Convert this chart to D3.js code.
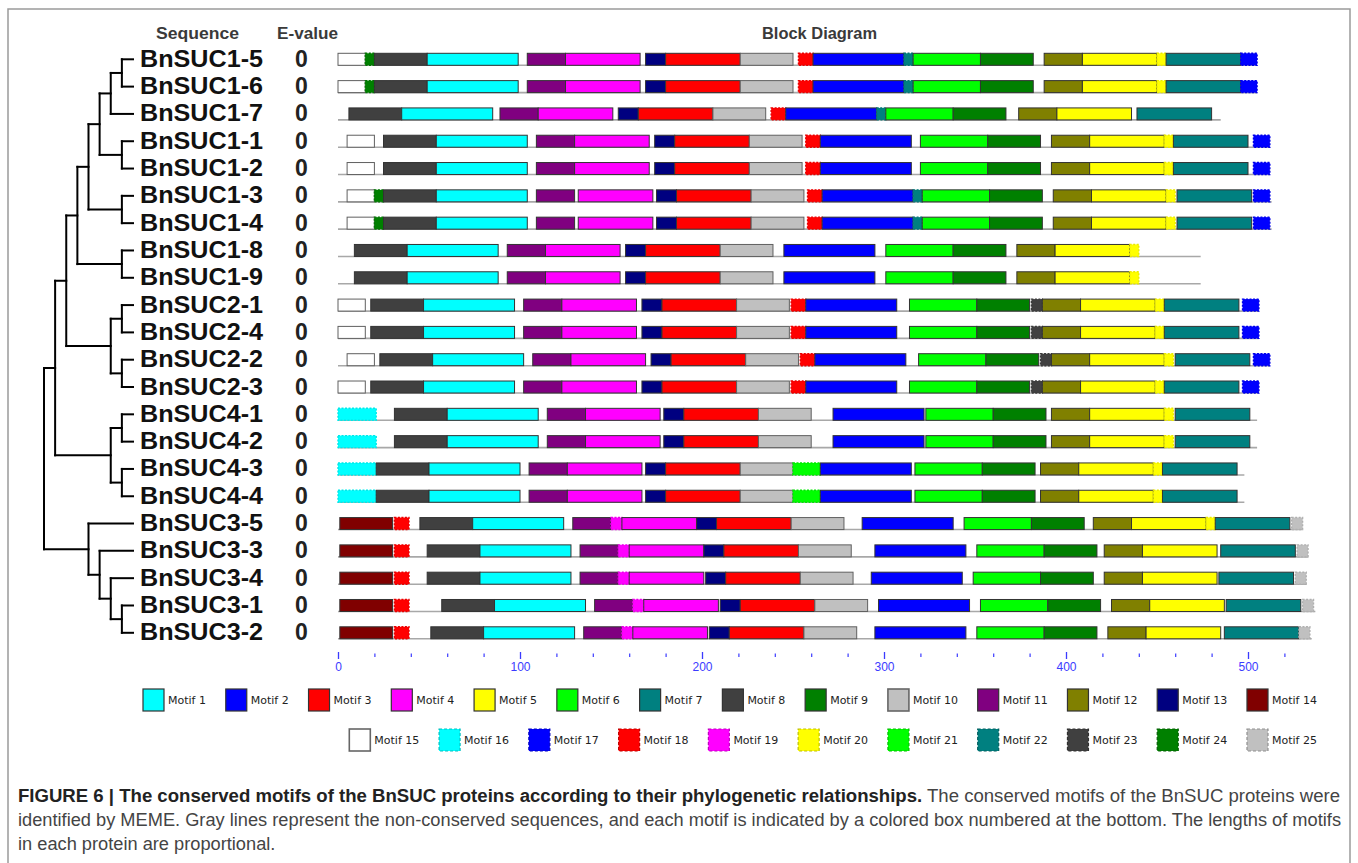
<!DOCTYPE html>
<html>
<head>
<meta charset="utf-8">
<script src="https://cdn.jsdelivr.net/npm/d3@7"></script>
<style>
  body { margin: 0; background: #fff; }
  svg { display: block; }
</style>
</head>
<body>
<svg id="chart" width="1358" height="863"></svg>
<script>
// ---------------- data ----------------
const sequences = [
  "BnSUC1-5", "BnSUC1-6", "BnSUC1-7", "BnSUC1-1", "BnSUC1-2", "BnSUC1-3", "BnSUC1-4",
  "BnSUC1-8", "BnSUC1-9", "BnSUC2-1", "BnSUC2-4", "BnSUC2-2", "BnSUC2-3",
  "BnSUC4-1", "BnSUC4-2", "BnSUC4-3", "BnSUC4-4",
  "BnSUC3-5", "BnSUC3-3", "BnSUC3-4", "BnSUC3-1", "BnSUC3-2"
];
const eValues = [0,0,0,0,0,0,0,0,0,0,0,0,0,0,0,0,0,0,0,0,0,0];
const seqLengths = [505,505,485,512,512,513,513,474,474,506,506,512,506,505,505,498,498,530,533,532,537,535];

// phylogeny (topology only, drawn as a cladogram)
const newick = "((((((((BnSUC1-5,BnSUC1-6),BnSUC1-7),(BnSUC1-1,BnSUC1-2)),(BnSUC1-3,BnSUC1-4)),(BnSUC1-8,BnSUC1-9)),((BnSUC2-1,BnSUC2-4),(BnSUC2-2,BnSUC2-3))),((BnSUC4-1,BnSUC4-2),(BnSUC4-3,BnSUC4-4))),(BnSUC3-5,(BnSUC3-3,(BnSUC3-4,(BnSUC3-1,BnSUC3-2)))));";

// motif 1..25
const motifIds = d3.range(1, 26);
const motifLengths = [50,50,41,41,41,37,41,29,29,29,21,21,11,29,15,21,9,8,6,5,15,5,6,5,6];
const motifColors = [
  "#00ffff","#0000ff","#ff0000","#ff00ff","#ffff00","#00ff00","#008080","#404040",
  "#008000","#c0c0c0","#800080","#808000","#000080","#800000","#ffffff",
  "#00ffff","#0000ff","#ff0000","#ff00ff","#ffff00","#00ff00","#008080","#404040","#008000","#c0c0c0"
];
const motifDashed = motifIds.map(m => m >= 16);

// axis
const axisTicks = [0, 100, 200, 300, 400, 500];
const minorTicks = [20,40,60,80,120,140,160,180,220,240,260,280,320,340,360,380,420,440,460,480,520];

// motif sites per sequence: [motif, start position]
const sites_BnSUC1_5 = [[15,0],[24,15],[8,20],[1,49],[11,104],[4,125],[13,169],[3,180],[10,221],[18,253],[2,261],[22,311],[6,316],[9,353],[12,388],[5,409],[20,450],[7,455],[17,496]];
const sites_BnSUC1_6 = [[15,0],[24,15],[8,20],[1,49],[11,104],[4,125],[13,169],[3,180],[10,221],[18,253],[2,261],[22,311],[6,316],[9,353],[12,388],[5,409],[20,450],[7,455],[17,496]];
const sites_BnSUC1_7 = [[8,6],[1,35],[11,89],[4,110],[13,154],[3,165],[10,206],[18,238],[2,246],[22,296],[6,301],[9,338],[12,374],[5,395],[7,439]];
const sites_BnSUC1_1 = [[15,5],[8,25],[1,54],[11,109],[4,130],[13,174],[3,185],[10,226],[18,257],[2,265],[6,320],[9,357],[12,392],[5,413],[20,454],[7,459],[17,503]];
const sites_BnSUC1_2 = [[15,5],[8,25],[1,54],[11,109],[4,130],[13,174],[3,185],[10,226],[18,257],[2,265],[6,320],[9,357],[12,392],[5,413],[20,454],[7,459],[17,503]];
const sites_BnSUC1_3 = [[15,5],[24,20],[8,25],[1,54],[11,109],[4,132],[13,175],[3,186],[10,227],[18,258],[2,266],[22,316],[6,321],[9,358],[12,393],[5,414],[20,455],[7,461],[17,503]];
const sites_BnSUC1_4 = [[15,5],[24,20],[8,25],[1,54],[11,109],[4,132],[13,175],[3,186],[10,227],[18,258],[2,266],[22,316],[6,321],[9,358],[12,393],[5,414],[20,455],[7,461],[17,503]];
const sites_BnSUC1_8 = [[8,9],[1,38],[11,93],[4,114],[13,158],[3,169],[10,210],[2,245],[6,301],[9,338],[12,373],[5,394],[20,435]];
const sites_BnSUC1_9 = [[8,9],[1,38],[11,93],[4,114],[13,158],[3,169],[10,210],[2,245],[6,301],[9,338],[12,373],[5,394],[20,435]];
const sites_BnSUC2_1 = [[15,0],[8,18],[1,47],[11,102],[4,123],[13,167],[3,178],[10,219],[18,249],[2,257],[6,314],[9,351],[23,381],[12,387],[5,408],[20,449],[7,454],[17,497]];
const sites_BnSUC2_4 = [[15,0],[8,18],[1,47],[11,102],[4,123],[13,167],[3,178],[10,219],[18,249],[2,257],[6,314],[9,351],[23,381],[12,387],[5,408],[20,449],[7,454],[17,497]];
const sites_BnSUC2_2 = [[15,5],[8,23],[1,52],[11,107],[4,128],[13,172],[3,183],[10,224],[18,254],[2,262],[6,319],[9,356],[23,386],[12,392],[5,413],[20,454],[7,460],[17,503]];
const sites_BnSUC2_3 = [[15,0],[8,18],[1,47],[11,102],[4,123],[13,167],[3,178],[10,219],[18,249],[2,257],[6,314],[9,351],[23,381],[12,387],[5,408],[20,449],[7,454],[17,497]];
const sites_BnSUC4_1 = [[16,0],[8,31],[1,60],[11,115],[4,136],[13,179],[3,190],[10,231],[2,272],[6,323],[9,360],[12,392],[5,413],[20,454],[7,460]];
const sites_BnSUC4_2 = [[16,0],[8,31],[1,60],[11,115],[4,136],[13,179],[3,190],[10,231],[2,272],[6,323],[9,360],[12,392],[5,413],[20,454],[7,460]];
const sites_BnSUC4_3 = [[16,0],[8,21],[1,50],[11,105],[4,126],[13,169],[3,180],[10,221],[21,250],[2,265],[6,317],[9,354],[12,386],[5,407],[20,448],[7,453]];
const sites_BnSUC4_4 = [[16,0],[8,21],[1,50],[11,105],[4,126],[13,169],[3,180],[10,221],[21,250],[2,265],[6,317],[9,354],[12,386],[5,407],[20,448],[7,453]];
const sites_BnSUC3_5 = [[14,1],[18,31],[8,45],[1,74],[11,129],[19,150],[4,156],[13,197],[3,208],[10,249],[2,288],[6,344],[9,381],[12,415],[5,436],[20,477],[7,482],[25,524]];
const sites_BnSUC3_3 = [[14,1],[18,31],[8,49],[1,78],[11,133],[19,154],[4,160],[13,201],[3,212],[10,253],[2,295],[6,351],[9,388],[12,421],[5,442],[7,485],[25,527]];
const sites_BnSUC3_4 = [[14,1],[18,31],[8,49],[1,78],[11,133],[19,154],[4,160],[13,202],[3,213],[10,254],[2,293],[6,349],[9,386],[12,421],[5,442],[7,484],[25,526]];
const sites_BnSUC3_1 = [[14,1],[18,31],[8,57],[1,86],[11,141],[19,162],[4,168],[13,210],[3,221],[10,262],[2,297],[6,353],[9,390],[12,425],[5,446],[7,488],[25,530]];
const sites_BnSUC3_2 = [[14,1],[18,31],[8,51],[1,80],[11,135],[19,156],[4,162],[13,204],[3,215],[10,256],[2,295],[6,351],[9,388],[12,423],[5,444],[7,487],[25,528]];

const motifSites = [
  sites_BnSUC1_5, sites_BnSUC1_6, sites_BnSUC1_7, sites_BnSUC1_1, sites_BnSUC1_2, sites_BnSUC1_3, sites_BnSUC1_4,
  sites_BnSUC1_8, sites_BnSUC1_9, sites_BnSUC2_1, sites_BnSUC2_4, sites_BnSUC2_2, sites_BnSUC2_3,
  sites_BnSUC4_1, sites_BnSUC4_2, sites_BnSUC4_3, sites_BnSUC4_4,
  sites_BnSUC3_5, sites_BnSUC3_3, sites_BnSUC3_4, sites_BnSUC3_1, sites_BnSUC3_2
];

const captionLines = [
  [["FIGURE 6 | The conserved motifs of the BnSUC proteins according to their phylogenetic relationships.", true],
   [" The conserved motifs of the BnSUC proteins were", false]],
  [["identified by MEME. Gray lines represent the non-conserved sequences, and each motif is indicated by a colored box numbered at the bottom. The lengths of motifs", false]],
  [["in each protein are proportional.", false]]
];

// ---------------- layout ----------------
const svg = d3.select("#chart");
const FONT = "'Liberation Sans', Arial, Helvetica, sans-serif";

// outer frame
svg.append("rect")
  .attr("x", 8).attr("y", 9).attr("width", 1342).attr("height", 880)
  .attr("fill", "none").attr("stroke", "#9a9a9a").attr("stroke-width", 1.5);

// rows
const yRow = d3.scaleLinear().domain([0, sequences.length - 1]).range([59.3, 632.8]);
// amino-acid position -> pixel
const x = d3.scaleLinear().domain([0, 500]).range([338, 338 + 500 * 1.82]);

// ---------------- headers ----------------
const headers = [
  { text: "Sequence", x: 156, w: 83 },
  { text: "E-value", x: 277, w: 61 },
  { text: "Block Diagram", x: 762, w: 115 }
];
svg.append("g").selectAll("text").data(headers).join("text")
  .attr("x", d => d.x).attr("y", 38.5)
  .attr("textLength", d => d.w).attr("lengthAdjust", "spacingAndGlyphs")
  .attr("font-family", FONT).attr("font-weight", "bold").attr("font-size", 17)
  .attr("fill", "#3a3a3a")
  .text(d => d.text);

// ---------------- tree ----------------
function parseNewick(s) {
  let i = 0;
  function node() {
    if (s[i] === "(") {
      i++;
      const children = [node()];
      while (s[i] === ",") { i++; children.push(node()); }
      i++;
      return { children };
    }
    let name = "";
    while (i < s.length && !",();".includes(s[i])) name += s[i++];
    return { name };
  }
  return node();
}
const root = d3.hierarchy(parseNewick(newick));
d3.cluster().nodeSize([1, 1]).separation(() => 1)(root);
const leaf0 = root.leaves()[0].x;
const nodeY = n => yRow(n.x - leaf0);
const xTree = d3.scaleLinear().domain([0, root.height]).range([44, 133]);

const gTree = svg.append("g")
  .attr("stroke", "#000").attr("stroke-width", 2).attr("fill", "none")
  .attr("stroke-linecap", "square");
root.descendants().filter(d => d.children).forEach(d => {
  const ys = d.children.map(nodeY);
  const nx = xTree(d.y);
  gTree.append("line")
    .attr("x1", nx).attr("x2", nx)
    .attr("y1", d3.min(ys)).attr("y2", d3.max(ys));
  d.children.forEach(c => {
    gTree.append("line")
      .attr("x1", nx).attr("x2", xTree(c.y))
      .attr("y1", nodeY(c)).attr("y2", nodeY(c));
  });
});

// ---------------- labels ----------------
svg.append("g").selectAll("text").data(sequences).join("text")
  .attr("x", 140).attr("y", (d, i) => yRow(i) + 7.5)
  .attr("textLength", 123).attr("lengthAdjust", "spacingAndGlyphs")
  .attr("font-family", FONT).attr("font-weight", "bold").attr("font-size", 23)
  .attr("fill", "#111")
  .text(d => d);

svg.append("g").selectAll("text").data(eValues).join("text")
  .attr("x", 301.5).attr("y", (d, i) => yRow(i) + 7.5)
  .attr("text-anchor", "middle")
  .attr("font-family", FONT).attr("font-weight", "bold").attr("font-size", 23)
  .attr("fill", "#222")
  .text(d => d);

// ---------------- block diagram ----------------
const BOX_H = 12;
const gBlocks = svg.append("g");
sequences.forEach((name, i) => {
  const cy = yRow(i);
  const row = gBlocks.append("g");
  // non-conserved backbone
  row.append("line")
    .attr("x1", x(0)).attr("x2", x(seqLengths[i]))
    .attr("y1", cy + BOX_H / 2).attr("y2", cy + BOX_H / 2)
    .attr("stroke", "#a8a8a8").attr("stroke-width", 1.6);
  row.selectAll("rect").data(motifSites[i]).join("rect")
    .attr("x", d => x(d[1]))
    .attr("y", cy - BOX_H / 2)
    .attr("width", d => x(d[1] + motifLengths[d[0] - 1]) - x(d[1]))
    .attr("height", BOX_H)
    .attr("fill", d => motifColors[d[0] - 1])
    .attr("stroke", d => motifDashed[d[0] - 1]
      ? d3.color(motifColors[d[0] - 1]).darker(0.25).formatHex()
      : (d[0] === 15 || d[0] === 10 ? "#606060" : "#333"))
    .attr("stroke-width", d => motifDashed[d[0] - 1] ? 1.4 : 1)
    .attr("stroke-dasharray", d => motifDashed[d[0] - 1] ? "2,1.5" : null);
});

// ---------------- position axis ----------------
const axisColor = "#3b3bff";
const gAxis = svg.append("g").attr("transform", "translate(0,652)")
  .call(d3.axisBottom(x).tickValues(axisTicks).tickSize(7).tickPadding(3).tickFormat(d3.format("d")));
gAxis.select(".domain").remove();
gAxis.selectAll(".tick line").attr("stroke", axisColor).attr("stroke-width", 1.3);
gAxis.selectAll(".tick text").attr("fill", axisColor)
  .attr("font-family", FONT).attr("font-size", 12);

const gMinor = svg.append("g").attr("transform", "translate(0,653.5)")
  .call(d3.axisBottom(x).tickValues(minorTicks).tickSize(3.5).tickFormat(""));
gMinor.select(".domain").remove();
gMinor.selectAll(".tick line").attr("stroke", axisColor).attr("stroke-width", 1.2);

// ---------------- legend ----------------
const LEG_W = 21, LEG_H = 22, LEG_GAP = 19.8, LEG_TXT = 4;
const legendRows = [d3.range(1, 15), d3.range(15, 26)];
const legendTops = [689, 729];
const gLegend = svg.append("g");

function drawLegendRow(ids) {
  const items = gLegend.append("g").selectAll("g").data(ids).join("g");
  items.append("rect")
    .attr("width", LEG_W).attr("height", LEG_H)
    .attr("fill", m => motifColors[m - 1])
    .attr("stroke", m => motifDashed[m - 1]
      ? d3.color(motifColors[m - 1]).darker(0.8).formatHex()
      : (m === 15 || m === 10 ? "#666" : "#333"))
    .attr("stroke-width", m => motifDashed[m - 1] ? 1.2 : (m === 15 || m === 10 ? 1.6 : 1.2))
    .attr("stroke-dasharray", m => motifDashed[m - 1] ? "3,2" : null);
  items.append("text")
    .attr("x", LEG_W + LEG_TXT).attr("y", LEG_H / 2 + 4)
    .attr("font-family", "'DejaVu Sans', Verdana, sans-serif").attr("font-size", 11)
    .attr("fill", "#222")
    .text(m => "Motif " + m);
  const widths = [];
  items.each(function () {
    widths.push(LEG_W + LEG_TXT + this.querySelector("text").getComputedTextLength() + LEG_GAP);
  });
  return { items, widths };
}
const r1 = drawLegendRow(legendRows[0]);
let cx = 143;
const r1x = r1.widths.map(w => { const v = cx; cx += w; return v; });
r1.items.attr("transform", (d, i) => `translate(${r1x[i]},${legendTops[0]})`);
const r1LastStart = r1x[r1x.length - 1];

// second row is right-aligned with the first
const r2 = drawLegendRow(legendRows[1]);
const r2x = [];
let ex = r1LastStart;
for (let i = r2.widths.length - 1; i >= 0; i--) {
  r2x[i] = ex;
  if (i > 0) ex -= r2.widths[i - 1];
}
r2.items.attr("transform", (d, i) => `translate(${r2x[i]},${legendTops[1]})`);

// ---------------- caption ----------------
const capY = [802, 826, 850];
const fullLineWidth = 1323;
const gCap = svg.append("g");
const capTexts = captionLines.map((parts, li) => {
  const t = gCap.append("text")
    .attr("x", 18).attr("y", capY[li])
    .attr("font-family", FONT).attr("font-size", 17.5)
    .attr("fill", "#444");
  parts.forEach(p => {
    t.append("tspan")
      .attr("font-weight", p[1] ? "bold" : "normal")
      .attr("fill", p[1] ? "#222" : "#444")
      .text(p[0]);
  });
  return t;
});
// condense every line by the same factor so that the full lines span the text block
const natural = capTexts.map(t => t.node().getComputedTextLength());
const squeeze = fullLineWidth / natural[1];
capTexts.forEach((t, li) => {
  const w = li < 2 ? fullLineWidth - (li === 0 ? 1 : 0) : natural[li] * squeeze;
  t.attr("textLength", w).attr("lengthAdjust", "spacingAndGlyphs");
});
</script>
</body>
</html>
